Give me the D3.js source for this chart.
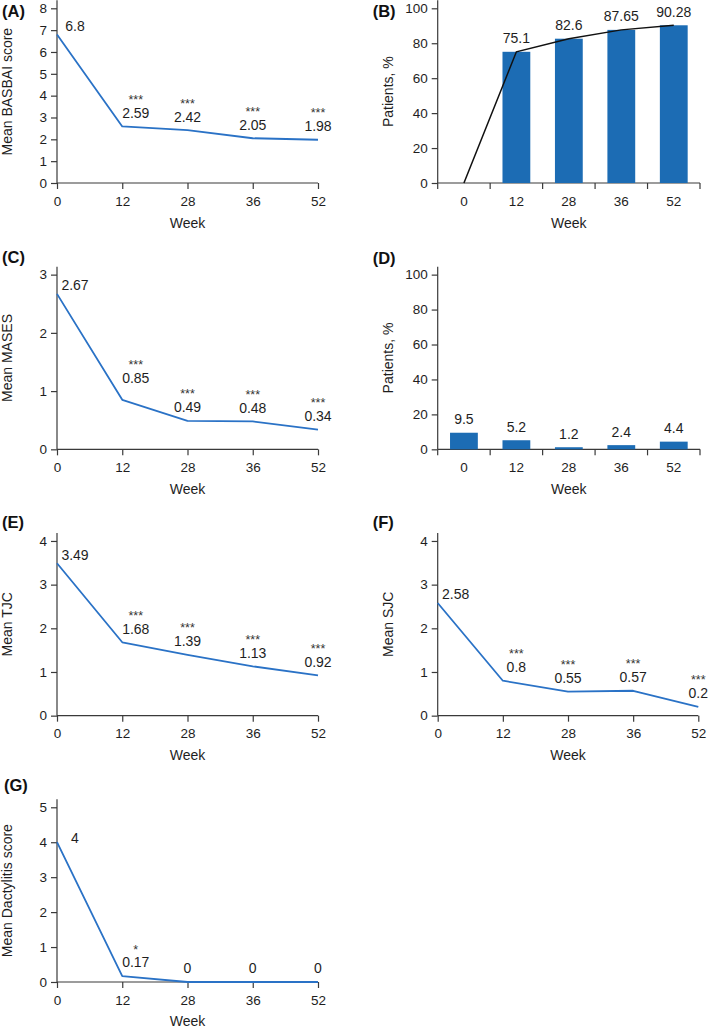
<!DOCTYPE html>
<html>
<head>
<meta charset="utf-8">
<script src="https://cdn.jsdelivr.net/npm/d3@7/dist/d3.min.js"></script>
<style>
  html, body { margin: 0; padding: 0; background: #fff; }
  svg { display: block; font-family: "Liberation Sans", Arial, sans-serif; }
</style>
</head>
<body>
<svg id="chart" width="709" height="1026"></svg>
<script>
// ---------- data ----------
const weeks = ["0", "12", "28", "36", "52"];

const basbaiMeans = [6.8, 2.59, 2.42, 2.05, 1.98];
const basbaiSig   = ["", "***", "***", "***", "***"];
const basbaiTicks = [0, 1, 2, 3, 4, 5, 6, 7, 8];

const responsePct = [0, 75.1, 82.6, 87.65, 90.28];
const pctTicks    = [0, 20, 40, 60, 80, 100];

const masesMeans = [2.67, 0.85, 0.49, 0.48, 0.34];
const masesSig   = ["", "***", "***", "***", "***"];
const masesTicks = [0, 1, 2, 3];

const panelDPct = [9.5, 5.2, 1.2, 2.4, 4.4];

const tjcMeans = [3.49, 1.68, 1.39, 1.13, 0.92];
const tjcSig   = ["", "***", "***", "***", "***"];
const tjcTicks = [0, 1, 2, 3, 4];

const sjcMeans = [2.58, 0.8, 0.55, 0.57, 0.2];
const sjcSig   = ["", "***", "***", "***", "***"];
const sjcTicks = [0, 1, 2, 3, 4];

const dactMeans = [4, 0.17, 0, 0, 0];
const dactSig   = ["", "*", "", "", ""];
const dactTicks = [0, 1, 2, 3, 4, 5];

const panelLetters = ["(A)", "(B)", "(C)", "(D)", "(E)", "(F)", "(G)"];
const yTitles = ["Mean BASBAI score", "Patients, %", "Mean MASES", "Patients, %",
                 "Mean TJC", "Mean SJC", "Mean Dactylitis score"];
const xTitle = "Week";

// ---------- layout ----------
const colLeft = [57, 437.7];
const lineWidth = 261;
const barRight = 700;
const rowBottom0 = 183, rowStep = 266.33, plotH = 174.7;
const letterY = [11, 11.5, 257, 258, 522, 522, 785];
const letterX = [2, 372.7, 2, 372.7, 2, 372.7, 4];
const labelNudge = { 2: [0, -8.5, 0, 0, 0], 6: [4.5, 0, 0, 0, 0] };

const textColor = "#1e1e1e";
const axisColor = "#3a3a3a";
const blue = "#2a72c6";
const barBlue = "#1c6cb4";

const svg = d3.select("#chart");

const panels = [
  { type: "line", col: 0, row: 0, values: basbaiMeans, sig: basbaiSig, ticks: basbaiTicks },
  { type: "bar",  col: 1, row: 0, values: responsePct, ticks: pctTicks, trend: true },
  { type: "line", col: 0, row: 1, values: masesMeans, sig: masesSig, ticks: masesTicks },
  { type: "bar",  col: 1, row: 1, values: panelDPct, ticks: pctTicks, trend: false },
  { type: "line", col: 0, row: 2, values: tjcMeans, sig: tjcSig, ticks: tjcTicks },
  { type: "line", col: 1, row: 2, values: sjcMeans, sig: sjcSig, ticks: sjcTicks },
  { type: "line", col: 0, row: 3, values: dactMeans, sig: dactSig, ticks: dactTicks }
];

function styleAxis(g) {
  g.selectAll("path.domain").remove();
  g.selectAll("line").attr("stroke", axisColor).attr("stroke-width", 1.2);
  g.selectAll("text").attr("fill", textColor).attr("font-size", 13.5)
    .attr("font-family", "'Liberation Sans', Arial, sans-serif");
}

panels.forEach((p, i) => {
  const g = svg.append("g");
  const left = colLeft[p.col];
  const right = p.type === "line" ? left + lineWidth - (p.col === 1 ? 0.4 : 0) : barRight;
  const bottom = rowBottom0 + rowStep * p.row;
  const top = bottom - plotH;
  const y = d3.scaleLinear().domain([0, d3.max(p.ticks)]).range([bottom, top]);

  // y axis
  const ya = g.append("g").attr("transform", `translate(${left},0)`)
    .call(d3.axisLeft(y).tickValues(p.ticks).tickFormat(d3.format("d"))
      .tickSize(6).tickPadding(4).tickSizeOuter(0));
  styleAxis(ya);
  g.append("line").attr("x1", left).attr("x2", left)
    .attr("y1", y(0)).attr("y2", y(d3.max(p.ticks)) - 8)
    .attr("stroke", axisColor).attr("stroke-width", 1.2);

  // y title
  g.append("text")
    .attr("transform", `translate(${left - 49.5},${(y(0) + y(d3.max(p.ticks)) - 8) / 2}) rotate(-90)`)
    .attr("text-anchor", "middle").attr("dy", "0.35em")
    .attr("font-size", 14).attr("fill", textColor)
    .text(yTitles[i]);

  // panel letter
  g.append("text").attr("x", letterX[i]).attr("y", letterY[i]).attr("dy", "0.36em")
    .attr("font-size", 16.5).attr("font-weight", "bold").attr("fill", "#111")
    .text(panelLetters[i]);

  // x title
  g.append("text").attr("x", (left + right) / 2).attr("y", bottom + 44.5)
    .attr("text-anchor", "middle").attr("font-size", 14).attr("fill", textColor)
    .text(xTitle);

  if (p.type === "line") {
    const x = d3.scalePoint().domain(weeks).range([left, right]);
    const xa = g.append("g").attr("transform", `translate(0,${bottom})`)
      .call(d3.axisBottom(x).tickSize(6).tickPadding(7).tickSizeOuter(0));
    styleAxis(xa);
    g.append("line").attr("x1", x.range()[0]).attr("x2", x.range()[1])
      .attr("y1", bottom).attr("y2", bottom)
      .attr("stroke", axisColor).attr("stroke-width", 1.2);

    const line = d3.line().x((d, k) => x(weeks[k])).y(d => y(d));
    g.append("path").datum(p.values).attr("d", line)
      .attr("fill", "none").attr("stroke", blue).attr("stroke-width", 1.8)
      .attr("stroke-linejoin", "round");

    const nudge = labelNudge[i] || [0, 0, 0, 0, 0];
    p.values.forEach((v, k) => {
      const dx = k === 0 ? 18 : (k === 1 ? 13.5 : 0);
      const cy = y(v) - (k === 0 ? 8.5 : 13.5) + nudge[k];
      const cx = x(weeks[k]) + dx;
      g.append("text").attr("x", cx).attr("y", cy).attr("dy", "0.35em")
        .attr("text-anchor", "middle").attr("font-size", 14).attr("fill", textColor)
        .text(String(v));
      if (p.sig[k]) {
        g.append("text").attr("x", cx).attr("y", cy - 16 + 7)
          .attr("text-anchor", "middle").attr("font-size", 12.5).attr("fill", "#333")
          .text(p.sig[k]);
      }
    });
  } else {
    const x = d3.scaleBand().domain(weeks).range([left, right]).paddingInner(0).paddingOuter(0);
    const bw = x.bandwidth() * 0.53;
    const xa = g.append("g").attr("transform", `translate(0,${bottom})`)
      .call(d3.axisBottom(x).tickSize(0).tickPadding(13.1).tickSizeOuter(0));
    styleAxis(xa);
    g.append("line").attr("x1", x.range()[0]).attr("x2", x.range()[1])
      .attr("y1", bottom).attr("y2", bottom)
      .attr("stroke", axisColor).attr("stroke-width", 1.2);
    const bounds = weeks.map(w => x(w)).concat([x.range()[1]]);
    g.selectAll("line.btick").data(bounds).join("line").attr("class", "btick")
      .attr("x1", d => d).attr("x2", d => d).attr("y1", bottom).attr("y2", bottom + 6)
      .attr("stroke", axisColor).attr("stroke-width", 1.2);

    const cx = w => x(w) + x.bandwidth() / 2;
    p.values.forEach((v, k) => {
      if (v <= 0) return;
      g.append("rect").attr("x", cx(weeks[k]) - bw / 2).attr("y", y(v))
        .attr("width", bw).attr("height", y(0) - y(v)).attr("fill", barBlue);
    });
    if (p.trend) {
      const line = d3.line().x((d, k) => cx(weeks[k])).y(d => y(d));
      g.append("path").datum(p.values).attr("d", line)
        .attr("fill", "none").attr("stroke", "#111").attr("stroke-width", 1.5);
    }
    p.values.forEach((v, k) => {
      if (v <= 0) return;
      g.append("text").attr("x", cx(weeks[k])).attr("y", y(v) - 13.5).attr("dy", "0.35em")
        .attr("text-anchor", "middle").attr("font-size", 14).attr("fill", textColor)
        .text(String(v));
    });
  }
});
</script>
</body>
</html>
